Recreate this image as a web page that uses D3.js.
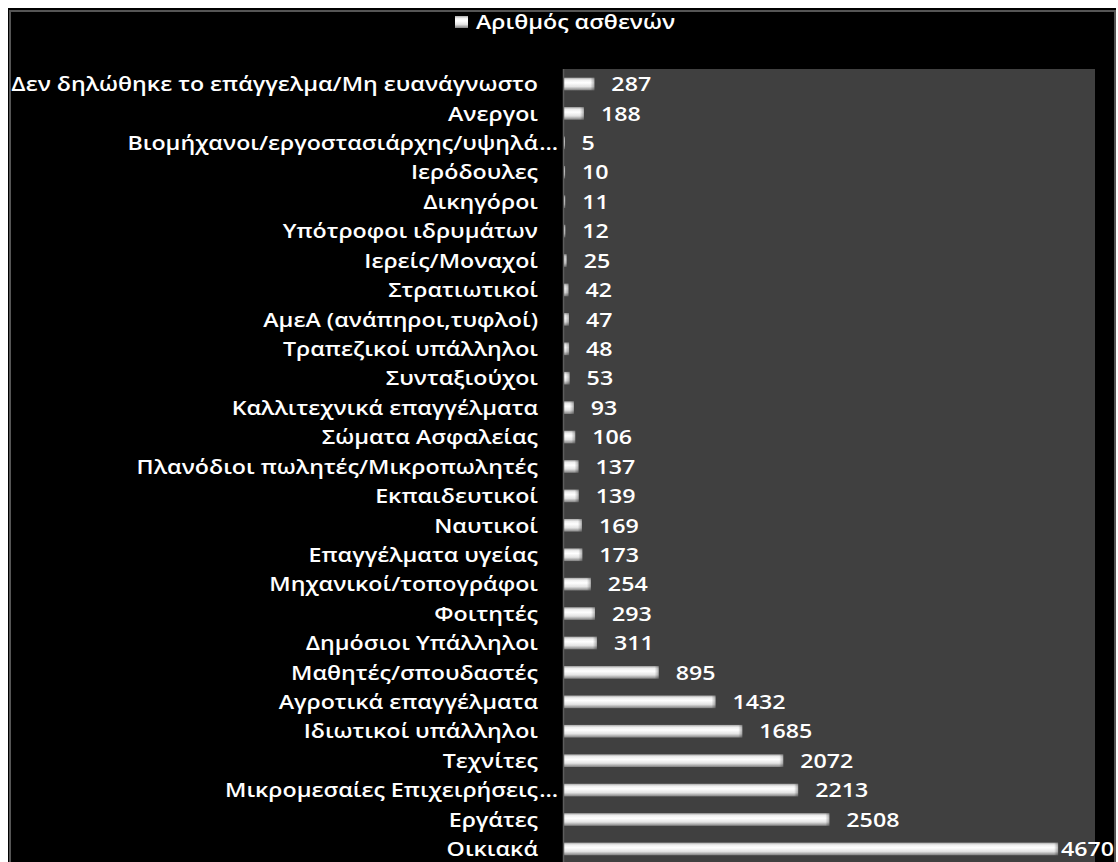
<!DOCTYPE html>
<html><head><meta charset="utf-8">
<script src="https://cdn.jsdelivr.net/npm/d3@7"></script>
<style>html,body{margin:0;padding:0;background:#fff;}svg{display:block;}</style>
</head><body>
<svg id="chart" width="1118" height="862"></svg>
<script>
const categories = [
  "Δεν δηλώθηκε το επάγγελμα/Μη ευανάγνωστο",
  "Ανεργοι",
  "Βιομήχανοι/εργοστασιάρχης/υψηλά...",
  "Ιερόδουλες",
  "Δικηγόροι",
  "Υπότροφοι ιδρυμάτων",
  "Ιερείς/Μοναχοί",
  "Στρατιωτικοί",
  "ΑμεΑ (ανάπηροι,τυφλοί)",
  "Τραπεζικοί υπάλληλοι",
  "Συνταξιούχοι",
  "Καλλιτεχνικά επαγγέλματα",
  "Σώματα Ασφαλείας",
  "Πλανόδιοι πωλητές/Μικροπωλητές",
  "Εκπαιδευτικοί",
  "Ναυτικοί",
  "Επαγγέλματα υγείας",
  "Μηχανικοί/τοπογράφοι",
  "Φοιτητές",
  "Δημόσιοι Υπάλληλοι",
  "Μαθητές/σπουδαστές",
  "Αγροτικά επαγγέλματα",
  "Ιδιωτικοί υπάλληλοι",
  "Τεχνίτες",
  "Μικρομεσαίες Επιχειρήσεις...",
  "Εργάτες",
  "Οικιακά"
];
const values = [287,188,5,10,11,12,25,42,47,48,53,93,106,137,139,169,173,254,293,311,895,1432,1685,2072,2213,2508,4670];
const seriesName = "Αριθμός ασθενών";
const xDomain = [0, 5000];

const svg = d3.select("#chart");
const W = 1118, H = 862;
const font = "'Open Sans', 'Noto Sans', sans-serif";
const fs = "20px", fw = 600, dy = "0.36em";

// outer frame
svg.append("rect").attr("x",0).attr("y",0).attr("width",W).attr("height",H).attr("fill","#fff");
svg.append("rect").attr("x",8).attr("y",8).attr("width",W-10).attr("height",H-8).attr("fill","#000");
svg.append("path").attr("d",`M10,${H} V11 H${W-3} V${H}`).attr("fill","none").attr("stroke","#555").attr("stroke-width",2);

const plot = {left:563, right:1095, top:69, bottom:H};
const x = d3.scaleLinear().domain(xDomain).range([plot.left+1, 1093]);
const step = 29.42;
const y = d3.scaleBand().domain(categories).range([69.3, 69.3 + categories.length*step]).paddingInner(0.57).paddingOuter(0.285);

// gradients
const defs = svg.append("defs");
const g = defs.append("linearGradient").attr("id","barGrad").attr("x1",0).attr("y1",0).attr("x2",0).attr("y2",1);
[[0,"#a8a8a8"],[0.18,"#eeeeee"],[0.4,"#ffffff"],[0.7,"#e4e4e4"],[1,"#808080"]].forEach(([o,c])=>g.append("stop").attr("offset",o).attr("stop-color",c));
const gE = defs.append("linearGradient").attr("id","endGrad").attr("x1",0).attr("y1",0).attr("x2",1).attr("y2",0);
gE.append("stop").attr("offset",0).attr("stop-color","#000").attr("stop-opacity",0);
gE.append("stop").attr("offset",1).attr("stop-color","#000").attr("stop-opacity",0.3);

// plot area
svg.append("rect").attr("x",plot.left).attr("y",plot.top).attr("width",plot.right-plot.left).attr("height",plot.bottom-plot.top).attr("fill","#404040");

// bars
const bars = svg.append("g");
bars.selectAll("rect.bar").data(values).join("rect").attr("class","bar")
  .attr("x", x(0)).attr("y",(d,i)=>y(categories[i]))
  .attr("width",d=>Math.max(1, x(d)-x(0))).attr("height",y.bandwidth())
  .attr("fill","url(#barGrad)");
bars.selectAll("rect.end").data(values).join("rect").attr("class","end")
  .attr("x",d=>Math.max(x(0), x(d)-4)).attr("y",(d,i)=>y(categories[i]))
  .attr("width",d=>Math.min(4, Math.max(1,x(d)-x(0)))).attr("height",y.bandwidth())
  .attr("fill","url(#endGrad)");

// axis line
svg.append("line").attr("x1",plot.left+0.5).attr("x2",plot.left+0.5).attr("y1",plot.top).attr("y2",H).attr("stroke","#5c5c5c").attr("stroke-width",1.5);

// horizontal stretch factor so that the longest category label spans the reference width
const probe = svg.append("text").attr("font-family",font).attr("font-size",fs).attr("font-weight",fw).text(categories[0]);
const sx = 527 / probe.node().getComputedTextLength();
probe.remove();

// category labels (ellipsis protrudes past the right alignment edge)
const labelRight = 538;
const lab = svg.append("g").selectAll("g").data(categories).join("g")
  .attr("transform",d=>`translate(${labelRight},${y(d)+y.bandwidth()/2}) scale(${sx},1)`);
lab.append("text").attr("text-anchor","end").attr("dy",dy)
  .attr("fill","#fff").attr("font-family",font).attr("font-size",fs).attr("font-weight",fw)
  .text(d=>d.endsWith("...") ? d.slice(0,-3) : d);
lab.filter(d=>d.endsWith("...")).append("text").attr("x",1).attr("dy",dy)
  .attr("fill","#fff").attr("font-family",font).attr("font-size",fs).attr("font-weight",fw)
  .text("...");

// value labels
svg.append("g").selectAll("text").data(values).join("text")
  .attr("dy",dy).attr("fill","#fff").attr("font-family",font).attr("font-size",fs).attr("font-weight",fw)
  .text(d=>d)
  .attr("transform",function(d,i){
    const w=this.getComputedTextLength()*sx;
    const lx=Math.min(x(d)+17, W-4-w);
    return `translate(${lx},${y(categories[i])+y.bandwidth()/2}) scale(${sx},1)`;
  });

// legend
const leg = svg.append("g");
leg.append("rect").attr("x",455).attr("y",16).attr("width",13).attr("height",12).attr("fill","url(#barGrad)");
leg.append("text").attr("transform",`translate(476,22) scale(${sx},1)`).attr("dy",dy)
  .attr("fill","#fff").attr("font-family",font).attr("font-size",fs).attr("font-weight",fw).text(seriesName);
</script>
</body></html>
